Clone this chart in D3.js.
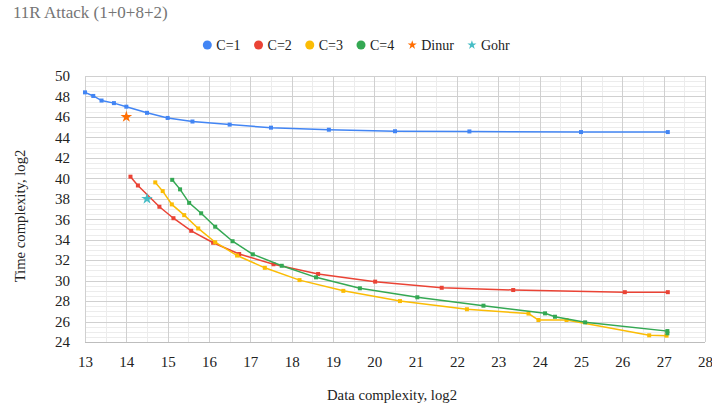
<!DOCTYPE html>
<html lang="en">
<head>
<meta charset="UTF-8">
<title>11R Attack</title>
<style>
  html, body { margin: 0; padding: 0; background: #fff; }
  svg { display: block; font-family: "Liberation Serif", "Times New Roman", serif; }
</style>
</head>
<body>
<svg id="svg" width="712" height="411"></svg>
<script src="https://d3js.org/d3.v7.min.js"></script>
<script>
  // data (log2 data complexity, log2 time complexity)
  const c1X = [13, 13.2, 13.4, 13.7, 14, 14.5, 15, 15.6, 16.5, 17.5, 18.9, 20.5, 22.3, 25, 27.1];
  const c1Y = [48.4, 48.05, 47.6, 47.35, 47.0, 46.4, 45.9, 45.55, 45.25, 44.95, 44.75, 44.6, 44.58, 44.52, 44.52];

  const c2X = [14.1, 14.28, 14.8, 15.14, 15.57, 16.1, 16.73, 17.56, 18.64, 20.02, 21.63, 23.36, 26.06, 27.1];
  const c2Y = [40.16, 39.3, 37.22, 36.1, 34.87, 33.7, 32.6, 31.6, 30.65, 29.9, 29.3, 29.08, 28.87, 28.87];

  const c3X = [14.7, 14.88, 15.1, 15.4, 15.74, 16.15, 16.68, 17.35, 18.19, 19.25, 20.62, 22.24, 23.73, 23.97, 24.65, 26.65, 27.07];
  const c3Y = [39.6, 38.75, 37.45, 36.4, 35.1, 33.75, 32.45, 31.25, 30.05, 29.0, 28.0, 27.2, 26.78, 26.15, 26.15, 24.65, 24.62];

  const c4X = [15.11, 15.3, 15.52, 15.81, 16.15, 16.57, 17.06, 17.76, 18.59, 19.65, 21.04, 22.64, 24.13, 24.37, 25.1, 27.09, 27.09];
  const c4Y = [39.85, 38.92, 37.6, 36.58, 35.27, 33.85, 32.57, 31.45, 30.32, 29.25, 28.37, 27.55, 26.8, 26.47, 25.92, 25.07, 24.85];

  const dinurX = [14], dinurY = [46];
  const gohrX = [14.5], gohrY = [38];

  const xTicks = d3.range(13, 29, 1);
  const yTicks = d3.range(24, 51, 2);

  const series = [
    { name: "C=1", xs: c1X, ys: c1Y, color: "#4285F4" },
    { name: "C=2", xs: c2X, ys: c2Y, color: "#EA4335" },
    { name: "C=3", xs: c3X, ys: c3Y, color: "#FBBC04" },
    { name: "C=4", xs: c4X, ys: c4Y, color: "#34A853" }
  ];
  const stars = [
    { name: "Dinur", xs: dinurX, ys: dinurY, color: "#FF6D01" },
    { name: "Gohr", xs: gohrX, ys: gohrY, color: "#46BDC6" }
  ];

  const margin = { top: 76, right: 7, bottom: 69, left: 85 };
  const width = 712 - margin.left - margin.right;
  const height = 411 - margin.top - margin.bottom;

  const x = d3.scaleLinear().domain([13, 28]).range([margin.left, margin.left + width]);
  const y = d3.scaleLinear().domain([24, 50]).range([margin.top + height, margin.top]);

  const svg = d3.select('#svg');

  // minor grid
  const grid = svg.append('g');
  grid.selectAll('.vminor').data(d3.range(13.5, 28, 1)).join('line')
    .attr('x1', d => Math.round(x(d)) + 0.5).attr('x2', d => Math.round(x(d)) + 0.5)
    .attr('y1', y(24)).attr('y2', y(50))
    .attr('stroke', '#ececec');
  grid.selectAll('.hminor').data(d3.range(24.5, 50, 0.5).filter(v => v % 2 !== 0)).join('line')
    .attr('x1', x(13)).attr('x2', x(28))
    .attr('y1', d => Math.round(y(d)) + 0.5).attr('y2', d => Math.round(y(d)) + 0.5)
    .attr('stroke', '#ececec');

  // major grid
  grid.selectAll('.vmajor').data(xTicks).join('line')
    .attr('x1', d => Math.round(x(d)) + 0.5).attr('x2', d => Math.round(x(d)) + 0.5)
    .attr('y1', y(24)).attr('y2', y(50))
    .attr('stroke', '#d0d0d0');
  grid.selectAll('.hmajor').data(yTicks).join('line')
    .attr('x1', x(13)).attr('x2', x(28))
    .attr('y1', d => Math.round(y(d)) + 0.5).attr('y2', d => Math.round(y(d)) + 0.5)
    .attr('stroke', d => d === 24 ? '#bdbdbd' : '#d0d0d0');

  // axes (labels only)
  const xAxis = d3.axisBottom(x).tickValues(xTicks).tickSize(0).tickPadding(14).tickFormat(d3.format('d'));
  svg.append('g')
    .attr('transform', `translate(0, ${margin.top + height})`)
    .call(xAxis)
    .call(g => g.select('.domain').remove())
    .selectAll('text')
    .attr('font-family', '"Liberation Serif", serif')
    .attr('font-size', 15)
    .attr('fill', '#222');

  const yAxis = d3.axisLeft(y).tickValues(yTicks).tickSize(0).tickPadding(15).tickFormat(d3.format('d'));
  svg.append('g')
    .attr('transform', `translate(${margin.left}, 0)`)
    .call(yAxis)
    .call(g => g.select('.domain').remove())
    .selectAll('text')
    .attr('font-family', '"Liberation Serif", serif')
    .attr('font-size', 15)
    .attr('fill', '#222');

  // lines
  const line = d3.line().x(d => x(d[0])).y(d => y(d[1]));
  series.forEach(s => {
    const pts = s.xs.map((v, i) => [v, s.ys[i]]);
    svg.append('path')
      .datum(pts)
      .attr('fill', 'none')
      .attr('stroke', s.color)
      .attr('stroke-width', 1.5)
      .attr('d', line);
    svg.append('g').selectAll('rect').data(pts).join('rect')
      .attr('x', d => x(d[0]) - 2)
      .attr('y', d => y(d[1]) - 2)
      .attr('width', 4).attr('height', 4)
      .attr('fill', s.color);
  });

  // star points
  const star = d3.symbol().type(d3.symbolStar).size(42);
  stars.forEach(s => {
    svg.append('g').selectAll('path').data(s.xs.map((v, i) => [v, s.ys[i]])).join('path')
      .attr('transform', d => `translate(${x(d[0])}, ${y(d[1])})`)
      .attr('d', star)
      .attr('fill', s.color);
  });

  // title
  svg.append('text')
    .attr('x', 13).attr('y', 18)
    .attr('font-size', 17)
    .attr('fill', '#757575')
    .text('11R Attack (1+0+8+2)');

  // legend
  const legendItems = series.map(s => ({ name: s.name, color: s.color, type: 'circle' }))
    .concat(stars.map(s => ({ name: s.name, color: s.color, type: 'star' })));
  const legend = svg.append('g');
  let lx = 0;
  legendItems.forEach(it => {
    const g = legend.append('g').attr('transform', `translate(${lx}, 0)`);
    if (it.type === 'circle') {
      g.append('circle').attr('cx', 5).attr('cy', 0).attr('r', 4.5).attr('fill', it.color);
    } else {
      g.append('path').attr('transform', 'translate(5, 0)')
        .attr('d', d3.symbol().type(d3.symbolStar).size(26)).attr('fill', it.color);
    }
    const t = g.append('text').attr('x', 14).attr('y', 5)
      .attr('font-size', 14).attr('fill', '#222').text(it.name);
    lx += 14 + t.node().getComputedTextLength() + 13;
  });
  lx -= 13;
  legend.attr('transform', `translate(${(712 - lx) / 2}, 45)`);

  // axis titles
  svg.append('text')
    .attr('x', 392).attr('y', 400)
    .attr('text-anchor', 'middle')
    .attr('font-size', 14.7).attr('fill', '#222')
    .text('Data complexity, log2');

  svg.append('text')
    .attr('transform', 'rotate(-90)')
    .attr('x', -216).attr('y', 25)
    .attr('text-anchor', 'middle')
    .attr('font-size', 14.7).attr('fill', '#222')
    .text('Time complexity, log2');
</script>
</body>
</html>
